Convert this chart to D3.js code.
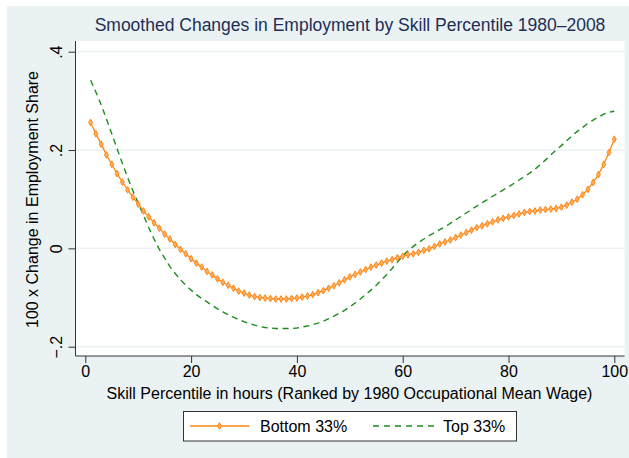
<!DOCTYPE html>
<html><head><meta charset="utf-8">
<script src="https://cdn.jsdelivr.net/npm/d3@7"></script>
<style>body{margin:0;background:#fff}svg{display:block}text{font-family:"Liberation Sans",Arial,Helvetica,sans-serif}</style>
</head><body><svg id="c" width="629" height="458"></svg>
<script>
const percentiles = d3.range(1, 101);
const bottom33 = [0.256,0.233,0.212,0.190,0.171,0.152,0.135,0.119,0.104,0.090,
0.076,0.064,0.052,0.041,0.029,0.019,0.008,-0.002,-0.011,-0.021,
-0.030,-0.038,-0.047,-0.054,-0.062,-0.069,-0.075,-0.081,-0.087,-0.091,
-0.095,-0.098,-0.100,-0.101,-0.102,-0.103,-0.103,-0.103,-0.102,-0.101,
-0.099,-0.097,-0.094,-0.090,-0.086,-0.081,-0.076,-0.070,-0.064,-0.058,
-0.053,-0.048,-0.043,-0.038,-0.034,-0.030,-0.026,-0.023,-0.019,-0.016,
-0.013,-0.011,-0.008,-0.004,-0.001,0.004,0.009,0.013,0.017,0.022,
0.027,0.032,0.037,0.042,0.046,0.050,0.054,0.058,0.061,0.064,
0.067,0.070,0.073,0.075,0.076,0.078,0.079,0.080,0.081,0.084,
0.088,0.094,0.100,0.109,0.120,0.134,0.150,0.171,0.195,0.222];
const top33 = [0.342,0.318,0.292,0.263,0.233,0.203,0.173,0.144,0.117,0.092,
0.067,0.042,0.019,-0.002,-0.020,-0.037,-0.051,-0.064,-0.075,-0.085,
-0.094,-0.102,-0.109,-0.116,-0.123,-0.129,-0.135,-0.140,-0.145,-0.149,
-0.153,-0.156,-0.159,-0.161,-0.162,-0.163,-0.163,-0.163,-0.163,-0.162,
-0.160,-0.158,-0.155,-0.152,-0.148,-0.143,-0.138,-0.132,-0.126,-0.119,
-0.111,-0.103,-0.094,-0.085,-0.075,-0.064,-0.053,-0.041,-0.028,-0.015,
-0.005,0.004,0.012,0.019,0.026,0.032,0.038,0.044,0.051,0.058,
0.065,0.072,0.079,0.086,0.093,0.099,0.106,0.112,0.119,0.125,
0.132,0.139,0.146,0.153,0.161,0.170,0.180,0.190,0.200,0.209,
0.219,0.229,0.238,0.246,0.254,0.261,0.267,0.273,0.277,0.279];
const xTicks = [0,20,40,60,80,100];
const yTicks = [-0.2,0,0.2,0.4];
const yTickLabels = ["\u2212.2","0",".2",".4"];
const seriesNames = ["Bottom 33%","Top 33%"];
const titleText = "Smoothed Changes in Employment by Skill Percentile 1980\u20132008";
const xTitle = "Skill Percentile in hours (Ranked by 1980 Occupational Mean Wage)";
const yTitle = "100 x Change in Employment Share";

const ORANGE = "#ff8614", GREEN = "#1c8c1c";
const svg = d3.select("#c");
svg.append("rect").attr("x",7).attr("y",6).attr("width",622).attr("height",452).attr("fill","#eaf2f3");
const P = {l:75.5, r:624.5, t:41, b:356};
svg.append("rect").attr("x",P.l).attr("y",P.t).attr("width",P.r-P.l).attr("height",P.b-P.t).attr("fill","#fff");

const x = d3.scaleLinear().domain([0,100]).range([85.3,614.3]);
const y = d3.scaleLinear().domain([-0.2,0.4]).range([346.7,51.7]);

// gridlines
svg.append("g").selectAll("line").data(yTicks).join("line")
  .attr("x1",P.l).attr("x2",P.r).attr("y1",d=>y(d)).attr("y2",d=>y(d))
  .attr("stroke","#eaf2f3").attr("stroke-width",1.5);

// axes
const xa = svg.append("g").attr("transform",`translate(0,${P.b})`)
  .call(d3.axisBottom(x).tickValues(xTicks).tickSize(7).tickPadding(3).tickFormat(d3.format("d")));
xa.select(".domain").attr("d",`M${P.l},0H${P.r}`).attr("stroke","#333");
xa.selectAll(".tick line").attr("stroke","#333");
xa.selectAll(".tick text").attr("font-size",16).attr("fill","#000").attr("font-family",null);

const ya = svg.append("g").attr("transform",`translate(${P.l},0)`)
  .call(d3.axisLeft(y).tickValues(yTicks).tickSize(7).tickFormat((d,i)=>yTickLabels[i]));
ya.select(".domain").attr("d",`M0,${P.t}V${P.b}`).attr("stroke","#333");
ya.selectAll(".tick line").attr("stroke","#333");
ya.selectAll(".tick text").attr("font-size",16).attr("fill","#000").attr("font-family",null)
  .attr("x",0).attr("dy",0).attr("text-anchor","middle")
  .attr("transform","translate(-13.5,0) rotate(-90)");

// lines
const ln = d3.line().x((d,i)=>x(percentiles[i])).y(d=>y(d));
svg.append("path").datum(top33).attr("d",ln).attr("fill","none").attr("stroke",GREEN)
  .attr("stroke-width",1.4).attr("stroke-dasharray","6,4.5");
svg.append("path").datum(bottom33).attr("d",ln).attr("fill","none").attr("stroke",ORANGE).attr("stroke-width",1.3);
const diamond = d3.symbol().type(d3.symbolDiamond).size(13);
svg.append("g").selectAll("path").data(bottom33).join("path")
  .attr("d",diamond).attr("transform",(d,i)=>`translate(${x(percentiles[i])},${y(d)})`)
  .attr("fill","#ffb060").attr("stroke",ORANGE).attr("stroke-width",1);

// titles
svg.append("text").attr("x",350).attr("y",31).attr("text-anchor","middle").attr("font-size",17.5)
  .attr("fill","#1e2e56").text(titleText);
svg.append("text").attr("x",349.5).attr("y",398.5).attr("text-anchor","middle").attr("font-size",16)
  .attr("fill","#000").text(xTitle);
svg.append("text").attr("transform","translate(38,199.5) rotate(-90)").attr("text-anchor","middle")
  .attr("font-size",16).attr("fill","#000").text(yTitle);

// legend
const lg = svg.append("g");
lg.append("rect").attr("x",183.5).attr("y",411.5).attr("width",333).attr("height",29.5)
  .attr("fill","#fff").attr("stroke","#333").attr("stroke-width",1);
lg.append("line").attr("x1",190).attr("x2",249.5).attr("y1",426).attr("y2",426).attr("stroke",ORANGE).attr("stroke-width",1.3);
lg.append("path").attr("d",diamond).attr("transform","translate(219.5,426)").attr("fill","#ffb060").attr("stroke",ORANGE);
lg.append("line").attr("x1",373).attr("x2",434).attr("y1",426).attr("y2",426).attr("stroke",GREEN)
  .attr("stroke-width",1.4).attr("stroke-dasharray","6,5");
lg.append("text").attr("x",260).attr("y",431.5).attr("font-size",16).attr("fill","#000").text(seriesNames[0]);
lg.append("text").attr("x",443).attr("y",431.5).attr("font-size",16).attr("fill","#000").text(seriesNames[1]);
</script></body></html>
